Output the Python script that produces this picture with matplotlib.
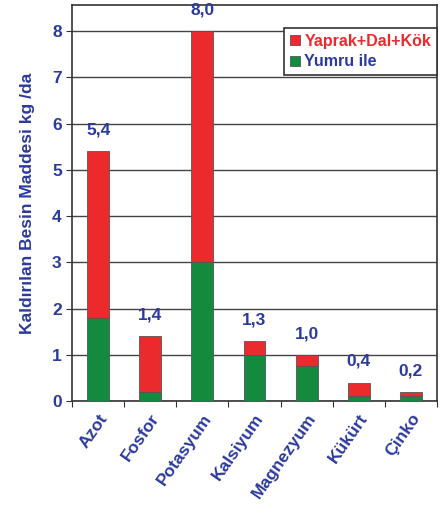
import matplotlib.pyplot as plt
import numpy as np

elements = ["Azot", "Fosfor", "Potasyum", "Kalsiyum", "Magnezyum", "Kükürt", "Çinko"]
totals = [5.4, 1.4, 8.0, 1.3, 1.0, 0.4, 0.2]
tuber = [1.8, 0.2, 3.0, 1.0, 0.75, 0.12, 0.12]
total_labels = ["5,4", "1,4", "8,0", "1,3", "1,0", "0,4", "0,2"]

RED = "#ea2a2c"
GREEN = "#148a3f"
BLUE = "#2b3a9c"

plt.rcParams['font.family'] = ['Liberation Sans', 'DejaVu Sans']

fig = plt.figure(figsize=(4.48, 5.19), dpi=100)
ax = fig.add_axes([0.161, 0.227, 0.814, 0.763])

x = np.arange(len(elements))
tuber = np.array(tuber)
rest = np.array(totals) - tuber

ax.bar(x, tuber, width=0.42, color=GREEN, edgecolor="#555555", linewidth=0.6, label="Yumru ile", zorder=3)
ax.bar(x, rest, width=0.42, bottom=tuber, color=RED, edgecolor="#555555", linewidth=0.6,
       label="Yaprak+Dal+Kök", zorder=3)

for xi, t, lab in zip(x, totals, total_labels):
    ax.text(xi, t + 0.3, lab, ha="center", va="bottom", color=BLUE, fontsize=12.5, fontweight="bold")

ax.set_xlim(-0.5, len(elements) - 0.5)
ax.set_ylim(0, 8.56)
ax.set_yticks(range(0, 9))
ax.yaxis.grid(True, color="#444444", linewidth=1.0, zorder=0)
ax.set_axisbelow(True)

ax.set_xticks(np.arange(-0.5, len(elements), 1.0))
ax.set_xticklabels([])
ax.set_xticks(x, minor=True)
ax.set_xticklabels(elements, minor=True, rotation=55, ha="right", rotation_mode="anchor",
                   color=BLUE, fontsize=12.5, fontweight="bold")
ax.tick_params(axis="x", which="minor", length=0, pad=7)
ax.tick_params(axis="x", which="major", length=4, direction="out", color="#333333")
ax.tick_params(axis="y", length=4, color="#333333", labelcolor=BLUE, labelsize=12.5)
for lab in ax.get_yticklabels():
    lab.set_fontweight("bold")

for sp in ax.spines.values():
    sp.set_color("#333333")
    sp.set_linewidth(1.2)

ax.set_ylabel("Kaldırılan Besin Maddesi kg /da", color=BLUE, fontsize=12.5, fontweight="bold", labelpad=12)

handles, labels = ax.get_legend_handles_labels()
leg = ax.legend(handles[::-1], labels[::-1], loc="upper right", bbox_to_anchor=(1.0, 0.942),
                borderaxespad=0, fancybox=False, edgecolor="#333333", fontsize=11.5,
                handlelength=0.6, handleheight=0.6, handletextpad=0.3, borderpad=0.35,
                labelspacing=0.35, framealpha=1)
leg.get_frame().set_linewidth(1.2)
leg_texts = leg.get_texts()
leg_texts[0].set_color(RED)
leg_texts[1].set_color(BLUE)
for t in leg_texts:
    t.set_fontweight("bold")

fig.savefig("out.png", dpi=100)
